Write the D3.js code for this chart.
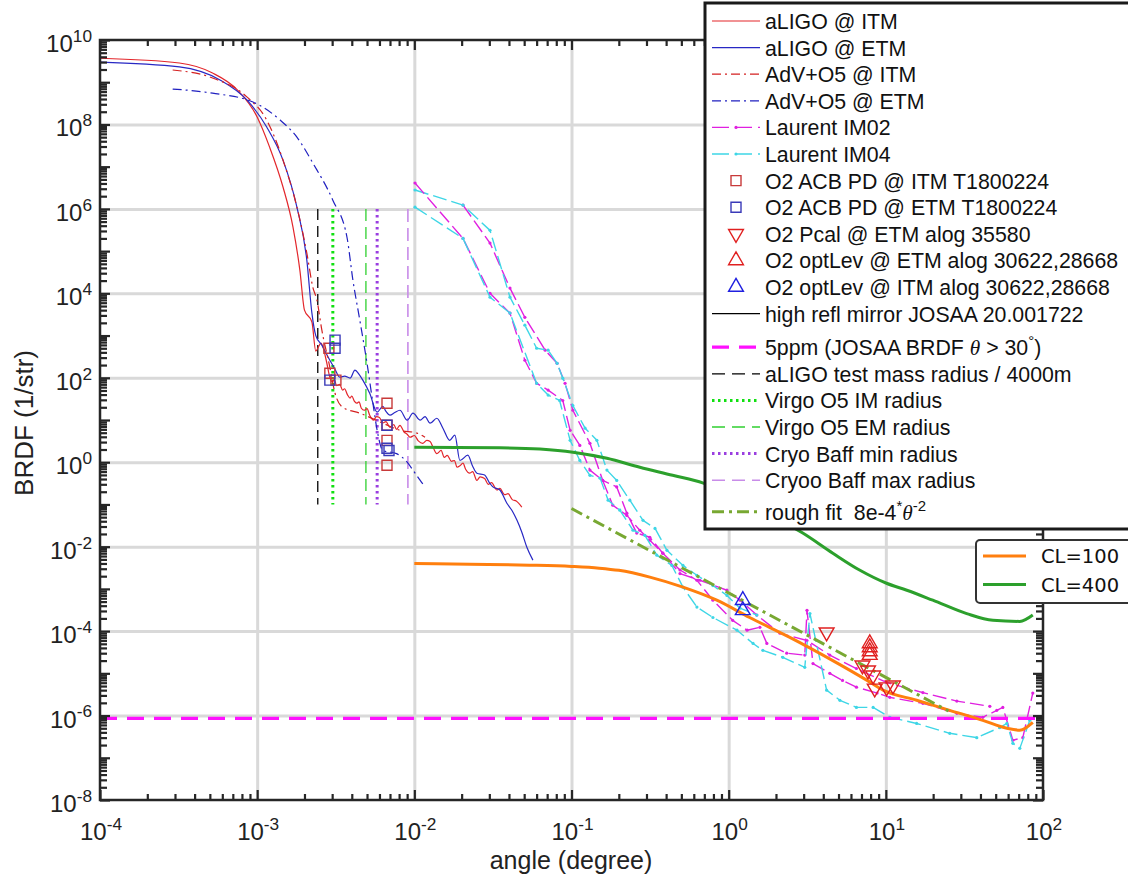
<!DOCTYPE html>
<html>
<head>
<meta charset="utf-8">
<script src="https://cdn.jsdelivr.net/npm/d3@7"></script>
<style>
  body { margin: 0; background: #fff; }
  svg { font-family: "Liberation Sans", Arial, sans-serif; }
  text { white-space: pre; }
</style>
</head>
<body>
<svg id="chart" width="1128" height="879"></svg>
<script>
// ---- data (angle in degree, BRDF in 1/str) ----
const xMajor = [1e-4, 1e-3, 1e-2, 1e-1, 1e0, 1e1, 1e2];
const xMajorExp = ["-4", "-3", "-2", "-1", "0", "1", "2"];
const yLabelTicks = [1e-8, 1e-6, 1e-4, 1e-2, 1e0, 1e2, 1e4, 1e6, 1e8, 1e10];
const yLabelExp = ["-8", "-6", "-4", "-2", "0", "2", "4", "6", "8", "10"];

const aligoItm = [[1e-4,3.7e9],[3.2e-4,2.85e9],[5.2e-4,1.65e9],[7.5e-4,6.5e8],[1e-3,1.5e8],[1.2e-3,2.9e7],
  [1.46e-3,3.3e6],[1.69e-3,3.7e5],[1.87e-3,3.5e4],[2.0e-3,4.0e3],[2.23e-3,2.1e3],[2.36e-3,430],[2.55e-3,660],
  [2.75e-3,260],[2.9e-3,103],[3.0e-3,80],[3.1e-3,90],[3.2e-3,65],[3.35e-3,70],[3.5e-3,51],[3.6e-3,55],[3.75e-3,40],
  [3.9e-3,33],[4.0e-3,37],[4.15e-3,28],[4.3e-3,25],[4.45e-3,27],[4.6e-3,19],[4.8e-3,17],[5.0e-3,18.5],[5.2e-3,13],
  [5.5e-3,9.9],[5.75e-3,12],[6.0e-3,11.5],[6.3e-3,8.5],[6.6e-3,9.2],[7.0e-3,6.7],[7.4e-3,7.8],[7.7e-3,6.0],
  [8.1e-3,7.5],[8.6e-3,5.2],[9.0e-3,4.6],[9.4e-3,3.9],[1.0e-2,4.3],[1.06e-2,3.2],[1.13e-2,2.8],[1.2e-2,3.3],
  [1.26e-2,3.1],[1.32e-2,2.2],[1.39e-2,1.6],[1.48e-2,1.9],[1.55e-2,1.3],[1.62e-2,1.45],[1.72e-2,1.05],[1.8e-2,1.1],
  [1.87e-2,0.76],[1.95e-2,0.82],[2.04e-2,0.95],[2.12e-2,0.68],[2.25e-2,0.55],[2.35e-2,0.6],[2.5e-2,0.37],
  [2.62e-2,0.45],[2.8e-2,0.41],[2.95e-2,0.3],[3.1e-2,0.33],[3.35e-2,0.22],[3.5e-2,0.24],[3.75e-2,0.17],
  [3.95e-2,0.18],[4.2e-2,0.13],[4.45e-2,0.12],[4.83e-2,0.086]];

const aligoEtm = [[1e-4,3.0e9],[3.2e-4,2.3e9],[5.8e-4,1.13e9],[8.6e-4,3.8e8],[1.15e-3,8.7e7],[1.46e-3,1.43e7],
  [1.79e-3,1.1e6],[2.07e-3,6.1e4],[2.23e-3,3.4e3],[2.36e-3,1.0e3],[2.58e-3,590],[2.9e-3,260],[3.1e-3,170],
  [3.36e-3,103],[3.6e-3,110],[3.9e-3,98],[4.19e-3,151],[4.45e-3,120],[4.7e-3,88],[5.2e-3,43],[5.8e-3,15.3],
  [6.3e-3,21],[6.6e-3,16],[7.0e-3,13],[7.5e-3,15],[8.1e-3,17],[9.0e-3,9.9],[9.8e-3,14.5],[1.09e-2,9.9],
  [1.17e-2,12],[1.26e-2,8.4],[1.39e-2,11],[1.52e-2,6.4],[1.68e-2,3.3],[1.81e-2,4.4],[1.95e-2,1.1],[2.19e-2,1.47],
  [2.35e-2,0.8],[2.5e-2,0.55],[2.8e-2,0.5],[3.0e-2,0.33],[3.16e-2,0.26],[3.5e-2,0.22],[3.88e-2,0.107],
  [4.2e-2,0.07],[4.5e-2,0.042],[4.83e-2,0.022],[5.2e-2,0.0097],[5.68e-2,0.0048]];

const advItm = [[2.9e-4,1.95e9],[5.2e-4,1.26e9],[8.6e-4,4.5e8],[1.15e-3,1.27e8],[1.46e-3,1.43e7],[1.79e-3,1.1e6],
  [2.07e-3,9.0e4],[2.26e-3,1.4e4],[2.4e-3,6.9e3],[2.58e-3,1.34e3],[2.9e-3,178],[3.13e-3,43],[3.5e-3,20],
  [4.5e-3,14.5],[6.3e-3,8.4],[8.1e-3,5.7],[1.04e-2,4.9],[1.17e-2,3.9]];

const advEtm = [[2.9e-4,6.9e8],[5.2e-4,5.5e8],[9.4e-4,3.4e8],[1.4e-3,1.27e8],[1.79e-3,5.0e7],[2.26e-3,1.22e7],
  [3.03e-3,1.6e6],[3.73e-3,2.1e5],[4.07e-3,2.0e4],[4.5e-3,2.3e3],[5.0e-3,220],[5.5e-3,20],[5.8e-3,5.7],
  [6.3e-3,1.9],[7.7e-3,1.6],[9.0e-3,1.0],[9.8e-3,0.65],[1.09e-2,0.37],[1.17e-2,0.26]];

const im02a = [[1.01e-2,4.1e6],[2.04e-2,2.0e5],[3.03e-2,1.0e4],[4.06e-2,3.4e3],[5.05e-2,260],[6.0e-2,74],
  [7.1e-2,51],[8.8e-2,29],[9.8e-2,5.7],[0.113,2.5],[0.131,0.65],[0.158,0.37],[0.183,0.096],[0.225,0.055],
  [0.272,0.0245],[0.315,0.0142],[0.381,0.007],[0.49,0.0028],[0.628,0.0016],[0.794,5.4e-4],[1.06,1.8e-4],
  [1.31,1.05e-4],[1.58,1.23e-4],[1.75,5.1e-5],[2.34,3.0e-5],[3.05,2.7e-5],[3.15,3.1e-4],[3.44,1.7e-5],
  [4.4,1.0e-5],[5.3,6.8e-6],[6.5,4.7e-6],[8.8,3.4e-6],[10.6,2.7e-6],[17.2,1.95e-6],[28.3,1.13e-6],
  [41.4,9.1e-7],[50.8,1.33e-6],[55.5,1.56e-6],[64.3,2.6e-7],[74.4,3.0e-7],[86.1,3.4e-6]];

const im02b = [[2.04e-2,1.23e6],[3.03e-2,1.55e5],[4.06e-2,1.33e4],[5.05e-2,2.7e3],[6.8e-2,450],[8.1e-2,220],
  [9.1e-2,74],[0.102,17],[0.131,2.8],[0.158,0.37],[0.194,0.26],[0.225,0.062],[0.26,0.021],[0.315,0.0167],
  [0.381,0.007],[0.49,0.0023],[0.656,0.0016],[0.975,9.3e-4],[1.18,5.4e-4],[1.51,2.4e-4],[2.12,8.9e-5],
  [3.15,6.0e-5],[4.4,2.7e-5],[6.5,1.3e-5],[10.1,6.1e-6],[17.2,3.5e-6],[28.3,2.2e-6],[45.9,1.65e-6]];

const im04a = [[1.01e-2,1.1e6],[2.04e-2,2.0e5],[3.03e-2,8.1e3],[4.06e-2,3.4e3],[6.0e-2,74],[7.1e-2,39],
  [8.4e-2,29],[9.8e-2,3.3],[0.113,1.1],[0.131,0.49],[0.152,0.42],[0.171,0.126],[0.203,0.073],[0.246,0.0245],
  [0.293,0.0186],[0.349,0.0063],[0.435,0.0036],[0.512,0.0011],[0.628,3.7e-4],[0.794,2.1e-4],[1.13,1.05e-4],
  [1.43,5.1e-5],[1.65,3.5e-5],[2.21,2.4e-5],[3.05,1.39e-5],[3.29,2.6e-4],[4.2,4.0e-6],[5.1,2.3e-6],
  [6.5,1.56e-6],[8.3,1.56e-6],[10.6,9.1e-7],[15.7,6.5e-7],[25.5,3.8e-7],[37.9,3.0e-7],[53.1,5.2e-7],
  [58.9,6.5e-7],[64.3,2.2e-7],[71.2,1.67e-7],[82.4,7.7e-7]];

const im04b = [[1.01e-2,2.8e6],[2.04e-2,1.23e6],[3.03e-2,3.1e5],[4.06e-2,8.1e3],[5.05e-2,1.76e3],[6.0e-2,500],
  [7.1e-2,450],[8.1e-2,220],[8.8e-2,98],[0.102,22],[0.122,6.4],[0.145,3.3],[0.168,0.65],[0.194,0.37],
  [0.235,0.126],[0.285,0.042],[0.34,0.027],[0.405,0.0082],[0.512,0.0036],[0.628,0.0021],[0.794,0.0012],
  [0.975,7.0e-4],[1.18,3.5e-4],[1.51,2.4e-4]];

const acbItm = [[2.86e-3,500],[2.9e-3,128],[3.17e-3,88],[6.7e-3,25],[6.7e-3,7.5],[6.7e-3,3.3],[6.7e-3,0.85]];
const acbEtm = [[3.13e-3,780],[3.13e-3,500],[2.9e-3,88],[6.7e-3,7.5],[6.7e-3,2.15],[6.9e-3,1.9]];
const pcalEtm = [[4.2,9.4e-5],[7.1,1.55e-5],[7.7,1.18e-5],[8.3,9.0e-6],[8.5,4.4e-6],[10.1,4.7e-6],[11.1,5.2e-6]];
const optLevEtm = [[7.9,5.1e-5],[7.9,4.1e-5],[7.9,3.3e-5],[7.9,2.7e-5]];
const optLevItm = [[1.23,5.4e-4],[1.23,3.1e-4]];

const ppm5 = [[1e-4,8.6e-7],[1e2,8.6e-7]];
const roughFit = [[0.1,0.08],[25,1.28e-6]];
const radii = [2.43e-3, 3.03e-3, 4.92e-3, 5.8e-3, 9.1e-3]; // test mass, Virgo IM, Virgo EM, cryo min, cryo max
const radiusSpan = [0.1, 1e6];

const cl100 = [[1.0e-2,4.0e-3],[2.25e-2,3.85e-3],[5.4e-2,3.65e-3],[0.1,3.4e-3],[0.15,3.1e-3],[0.2,2.75e-3],
  [0.315,1.9e-3],[0.512,1.1e-3],[0.84,5.4e-4],[1.36,2.1e-4],[2.45,7.1e-5],[4.6,2.0e-5],[7.6,6.8e-6],[9.6,4.0e-6],
  [15.7,2.3e-6],[25.5,1.33e-6],[41.4,7.7e-7],[58.9,5.0e-7],[71.2,4.5e-7],[86.1,6.9e-7]];
const cl400 = [[1.0e-2,2.26],[3.5e-2,2.2],[6.3e-2,2.05],[0.102,1.73],[0.168,1.24],[0.272,0.76],[0.44,0.49],
  [0.69,0.32],[1.36,0.096],[2.96,0.021],[4.6,0.007],[6.8,0.0028],[10.1,1.36e-3],[13.6,9.3e-4],[19.9,5.4e-4],
  [32.7,2.6e-4],[48,1.8e-4],[71.2,1.7e-4],[86.1,2.4e-4]];

// ---- styles ----
const RED = "#e3262b", BLUE = "#2828c4", MAG = "#e020e0", CYAN = "#3ed6e6";
const smooth = d3.curveMonotoneX;
const series = [
  { d: aligoItm, c: RED, w: 1.2, curve: smooth },
  { d: aligoEtm, c: BLUE, w: 1.2, curve: smooth },
  { d: advItm, c: "#d42020", w: 1.2, dash: "9,4,2,4", curve: smooth },
  { d: advEtm, c: "#2020c0", w: 1.2, dash: "9,4,2,4", curve: smooth },
  { d: im02b, c: MAG, w: 1.4, dash: "14,5", dots: true },
  { d: im04b, c: CYAN, w: 1.4, dash: "14,5", dots: true },
  { d: im02a, c: MAG, w: 1.4, dash: "14,5", dots: true },
  { d: im04a, c: CYAN, w: 1.4, dash: "14,5", dots: true },
  { d: ppm5, c: "#ff10ff", w: 3.2, dash: "17,10" },
  { d: cl400, c: "#2ca02c", w: 3, curve: smooth },
  { d: cl100, c: "#ff7f0e", w: 3, curve: smooth },
  { d: roughFit, c: "#78a832", w: 3, dash: "12,5,3,5" }
];
const radiusStyles = [
  { c: "#000", w: 1.3, dash: "11,6" },
  { c: "#10e010", w: 3, dash: "2.5,3.5" },
  { c: "#30d030", w: 1.3, dash: "12,6" },
  { c: "#9a3ee0", w: 3, dash: "2.5,3.5" },
  { c: "#c88ce8", w: 1.6, dash: "13,6" }
];

// ---- chart ----
const svg = d3.select("#chart");
const L = 100, R = 1043, T = 40, B = 800;
const x = d3.scaleLog().domain([1e-4, 1e2]).range([L, R]);
const y = d3.scaleLog().domain([1e-8, 1e10]).range([B, T]);

const xMinor = [], yMinor = [], yMajor = [];
for (let k = -4; k < 2; k++) for (let m = 2; m < 10; m++) xMinor.push(m * Math.pow(10, k));
for (let k = -8; k < 10; k++) { yMajor.push(Math.pow(10, k)); for (let m = 2; m < 10; m++) yMinor.push(m * Math.pow(10, k)); }
yMajor.push(1e10);

// grid
const grid = svg.append("g").attr("class", "grid");
grid.append("g").attr("transform", `translate(0,${B})`)
  .call(d3.axisBottom(x).tickValues(xMajor.slice(1, -1)).tickSize(-(B - T)).tickFormat(""));
grid.append("g").attr("transform", `translate(${L},0)`)
  .call(d3.axisLeft(y).tickValues(yLabelTicks.slice(1, -1)).tickSize(-(R - L)).tickFormat(""));
grid.selectAll(".domain").remove();
grid.selectAll("line").attr("stroke", "#d9d9d9").attr("stroke-width", 3);

// vertical radius markers
svg.append("g").selectAll("line").data(radii).join("line")
  .attr("x1", d => x(d)).attr("x2", d => x(d))
  .attr("y1", y(radiusSpan[1])).attr("y2", y(radiusSpan[0]))
  .attr("stroke", (d, i) => radiusStyles[i].c)
  .attr("stroke-width", (d, i) => radiusStyles[i].w)
  .attr("stroke-dasharray", (d, i) => radiusStyles[i].dash);

// curves
const curves = svg.append("g").attr("fill", "none");
series.forEach(s => {
  const line = d3.line().x(d => x(d[0])).y(d => y(d[1])).curve(s.curve || d3.curveLinear);
  curves.append("path").datum(s.d).attr("d", line)
    .attr("stroke", s.c).attr("stroke-width", s.w)
    .attr("stroke-dasharray", s.dash || null).attr("stroke-linejoin", "round");
  if (s.dots) {
    curves.append("g").selectAll("circle").data(s.d).join("circle")
      .attr("cx", d => x(d[0])).attr("cy", d => y(d[1])).attr("r", 1.6).attr("fill", s.c);
  }
});

// markers
const sq = d3.symbol(d3.symbolSquare, 100);
const tri = d3.symbol(d3.symbolTriangle, 95);
const markers = svg.append("g").attr("fill", "none").attr("stroke-width", 1.4);
function drawMarkers(data, sym, color, rot) {
  markers.append("g").selectAll("path").data(data).join("path")
    .attr("d", sym)
    .attr("transform", d => `translate(${x(d[0])},${y(d[1])}) rotate(${rot})`)
    .attr("stroke", color);
}
drawMarkers(acbItm, sq, "#c83a3a", 0);
drawMarkers(acbEtm, sq, "#3a3ab8", 0);
drawMarkers(pcalEtm, tri, "#e02020", 180);
drawMarkers(optLevEtm, tri, "#e02020", 0);
drawMarkers(optLevItm, tri, "#2020e0", 0);

// axes frame & ticks
const axisColor = "#262626";
const axes = svg.append("g");
function tickAxis(axis, tf, vals, size) {
  const g = axes.append("g").attr("transform", tf)
    .call(axis.tickValues(vals).tickSize(size).tickFormat(""));
  g.select(".domain").remove();
  g.selectAll("line").attr("stroke", axisColor).attr("stroke-width", 2.2);
}
tickAxis(d3.axisBottom(x), `translate(0,${B})`, xMajor, -10);
tickAxis(d3.axisBottom(x), `translate(0,${B})`, xMinor, -6);
tickAxis(d3.axisTop(x), `translate(0,${T})`, xMajor, -10);
tickAxis(d3.axisTop(x), `translate(0,${T})`, xMinor, -6);
tickAxis(d3.axisLeft(y), `translate(${L},0)`, yMajor, -10);
tickAxis(d3.axisLeft(y), `translate(${L},0)`, yMinor, -7);
tickAxis(d3.axisRight(y), `translate(${R},0)`, yMajor, -10);
tickAxis(d3.axisRight(y), `translate(${R},0)`, yMinor, -7);
axes.append("rect").attr("x", L).attr("y", T).attr("width", R - L).attr("height", B - T)
  .attr("fill", "none").attr("stroke", axisColor).attr("stroke-width", 2.5);

// tick labels
function powText(g, exp, fs) {
  g.append("tspan").text("10");
  g.append("tspan").attr("font-size", fs * 0.72).attr("dy", -fs * 0.42).text(exp);
}
xMajor.forEach((v, i) => {
  const t = svg.append("text").attr("x", x(v) + 1).attr("y", 840).attr("text-anchor", "middle")
    .attr("font-size", 24).attr("fill", "#222");
  powText(t, xMajorExp[i], 24);
});
yLabelTicks.forEach((v, i) => {
  const t = svg.append("text").attr("x", 92).attr("y", y(v) + 12).attr("text-anchor", "end")
    .attr("font-size", 24).attr("fill", "#222");
  powText(t, yLabelExp[i], 24);
});
svg.append("text").attr("x", 571).attr("y", 869).attr("text-anchor", "middle")
  .attr("font-size", 25).attr("fill", "#222").text("angle (degree)");
svg.append("text").attr("transform", "translate(33,423) rotate(-90)").attr("text-anchor", "middle")
  .attr("font-size", 26).attr("fill", "#222").text("BRDF (1/str)");

// ---- main legend ----
const legendItems = [
  { label: [["aLIGO @ ITM"]], type: "line", c: RED, w: 1.2 },
  { label: [["aLIGO @ ETM"]], type: "line", c: BLUE, w: 1.2 },
  { label: [["AdV+O5 @ ITM"]], type: "line", c: "#d42020", w: 1.2, dash: "9,4,2,4" },
  { label: [["AdV+O5 @ ETM"]], type: "line", c: "#2020c0", w: 1.2, dash: "9,4,2,4" },
  { label: [["Laurent IM02"]], type: "line", c: MAG, w: 1.4, dash: "17,6", dot: true },
  { label: [["Laurent IM04"]], type: "line", c: CYAN, w: 1.4, dash: "17,6", dot: true },
  { label: [["O2 ACB PD @ ITM T1800224"]], type: "mark", sym: sq, c: "#c83a3a", rot: 0 },
  { label: [["O2 ACB PD @ ETM T1800224"]], type: "mark", sym: sq, c: "#3a3ab8", rot: 0 },
  { label: [["O2 Pcal @ ETM alog 35580"]], type: "mark", sym: tri, c: "#e02020", rot: 180 },
  { label: [["O2 optLev @ ETM alog 30622,28668"]], type: "mark", sym: tri, c: "#e02020", rot: 0 },
  { label: [["O2 optLev @ ITM alog 30622,28668"]], type: "mark", sym: tri, c: "#2020e0", rot: 0 },
  { label: [["high refl mirror JOSAA 20.001722"]], type: "line", c: "#000", w: 1.2 },
  { label: [["5ppm (JOSAA BRDF "], ["θ", "it"], [" > 30", ""], ["°", "sup"], [")"]], type: "line", c: "#ff10ff", w: 3.2, dash: "17,10" },
  { label: [["aLIGO test mass radius / 4000m"]], type: "line", c: "#000", w: 1.3, dash: "13,7" },
  { label: [["Virgo O5 IM radius"]], type: "line", c: "#10e010", w: 3, dash: "2.5,3.5" },
  { label: [["Virgo O5 EM radius"]], type: "line", c: "#30d030", w: 1.3, dash: "13,7" },
  { label: [["Cryo Baff min radius"]], type: "line", c: "#9a3ee0", w: 3, dash: "2.5,3.5" },
  { label: [["Cryoo Baff max radius"]], type: "line", c: "#c88ce8", w: 1.6, dash: "13,7" },
  { label: [["rough fit  8e-4"], ["*", "sup"], ["θ", "it"], ["-2", "sup"]], type: "line", c: "#78a832", w: 3, dash: "12,5,3,5" }
];
const lg = svg.append("g");
lg.append("rect").attr("x", 705).attr("y", 3).attr("width", 440).attr("height", 526)
  .attr("fill", "#fff").attr("stroke", "#1a1a1a").attr("stroke-width", 3);
legendItems.forEach((it, i) => {
  const ry = 21 + i * 26.6 + (i >= 12 ? 7 : 0) + (i >= 18 ? 5 : 0);
  if (it.type === "line") {
    lg.append("line").attr("x1", 712).attr("x2", 760).attr("y1", ry).attr("y2", ry)
      .attr("stroke", it.c).attr("stroke-width", it.w).attr("stroke-dasharray", it.dash || null);
    if (it.dot) lg.append("circle").attr("cx", 736).attr("cy", ry).attr("r", 1.6).attr("fill", it.c);
  } else {
    lg.append("path").attr("d", it.sym).attr("transform", `translate(736,${ry}) rotate(${it.rot})`)
      .attr("fill", "none").attr("stroke", it.c).attr("stroke-width", 1.4);
  }
  const t = lg.append("text").attr("x", 765).attr("y", ry + 8).attr("font-size", 21.3).attr("fill", "#111");
  let raised = false;
  it.label.forEach(([s, kind]) => {
    const sp = t.append("tspan").text(s);
    if (kind === "it") sp.attr("font-family", "'Liberation Serif', 'Times New Roman', serif").attr("font-style", "italic");
    if (kind === "sup") { sp.attr("font-size", 15).attr("dy", raised ? 0 : -9); raised = true; }
    else if (raised) { sp.attr("dy", 9); raised = false; }
  });
});

// ---- CL legend ----
const clItems = [{ label: "CL=100", c: "#ff7f0e" }, { label: "CL=400", c: "#2ca02c" }];
const lg2 = svg.append("g");
lg2.append("rect").attr("x", 976).attr("y", 540).attr("width", 170).attr("height", 63).attr("rx", 4)
  .attr("fill", "#fff").attr("stroke", "#333").attr("stroke-width", 2);
clItems.forEach((it, i) => {
  const ry = 556 + i * 28.5;
  lg2.append("line").attr("x1", 983).attr("x2", 1026).attr("y1", ry).attr("y2", ry)
    .attr("stroke", it.c).attr("stroke-width", 3);
  lg2.append("text").attr("x", 1041).attr("y", ry + 7).attr("font-family", "'DejaVu Sans', sans-serif")
    .attr("font-size", 19.5).attr("fill", "#111").text(it.label);
});
</script>
</body>
</html>
